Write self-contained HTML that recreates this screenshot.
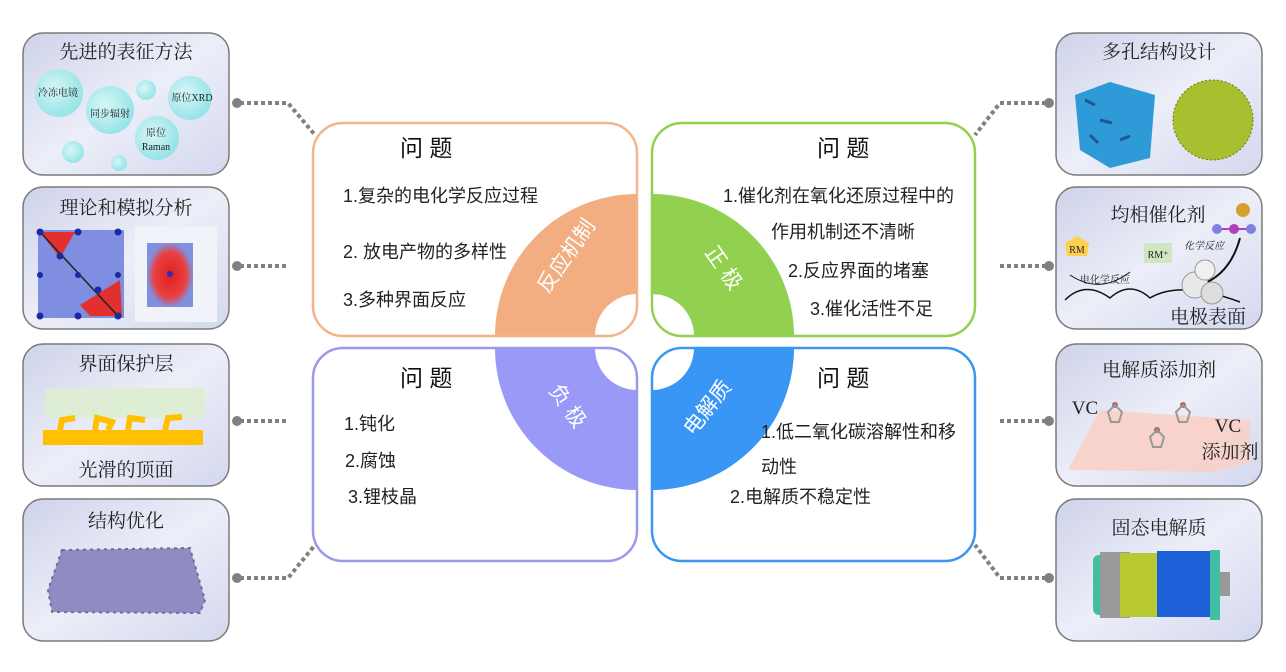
<!DOCTYPE html>
<html><head><meta charset="utf-8"><style>
html,body{margin:0;padding:0;background:#fff;}
svg{display:block;}
.pt{font-family:"Liberation Serif","Noto Serif CJK SC",serif;font-size:19px;fill:#222;}
.ct{font-family:"Liberation Sans","Noto Sans CJK SC",sans-serif;font-size:18px;fill:#222;}
.h{font-family:"Liberation Sans","Noto Sans CJK SC",sans-serif;font-size:23px;fill:#111;}
.ql{font-family:"Liberation Sans","Noto Sans CJK SC",sans-serif;font-size:21px;fill:#fff;}
.s{font-family:"Liberation Serif","Noto Serif CJK SC",serif;font-size:10px;fill:#222;}
</style></head><body>
<svg width="1286" height="672" viewBox="0 0 1286 672" xmlns="http://www.w3.org/2000/svg">
<defs>
<linearGradient id="pg" x1="0" y1="0" x2="1" y2="1">
<stop offset="0" stop-color="#cfd3ea"/><stop offset="0.5" stop-color="#eceef8"/><stop offset="1" stop-color="#d4d8ee"/>
</linearGradient>
<radialGradient id="bub" cx="0.4" cy="0.4" r="0.6">
<stop offset="0" stop-color="#d8f8f8"/><stop offset="1" stop-color="#8fe4e6"/>
</radialGradient>
<radialGradient id="heat" cx="0.5" cy="0.5" r="0.5">
<stop offset="0" stop-color="#e02020"/><stop offset="0.7" stop-color="#e84040"/><stop offset="1" stop-color="#8090e0"/>
</radialGradient>
<clipPath id="cTL"><rect x="313" y="123" width="324" height="213" rx="30"/></clipPath>
<clipPath id="cTR"><rect x="652" y="123" width="323" height="213" rx="30"/></clipPath>
<clipPath id="cBL"><rect x="313" y="348" width="324" height="213" rx="30"/></clipPath>
<clipPath id="cBR"><rect x="652" y="348" width="323" height="213" rx="30"/></clipPath>
</defs>

<g stroke="#808080" stroke-width="4" stroke-dasharray="4 3" fill="none">
<path d="M240 103 H288 L315 135"/>
<path d="M240 266 H288"/>
<path d="M240 421 H288"/>
<path d="M240 578 H288 L315 545"/>
<path d="M1046 103 H1000 L975 135"/>
<path d="M1046 266 H1000"/>
<path d="M1046 421 H1000"/>
<path d="M1046 578 H1000 L975 545"/>
</g>
<g fill="#808080">
<circle cx="237" cy="103" r="5"/><circle cx="237" cy="266" r="5"/><circle cx="237" cy="421" r="5"/><circle cx="237" cy="578" r="5"/>
<circle cx="1049" cy="103" r="5"/><circle cx="1049" cy="266" r="5"/><circle cx="1049" cy="421" r="5"/><circle cx="1049" cy="578" r="5"/>
</g>

<g stroke="#7a7a7a" stroke-width="1.5" fill="url(#pg)">
<rect x="23" y="33" width="206" height="142" rx="20"/>
<rect x="23" y="187" width="206" height="142" rx="20"/>
<rect x="23" y="344" width="206" height="142" rx="20"/>
<rect x="23" y="499" width="206" height="142" rx="20"/>
<rect x="1056" y="33" width="206" height="142" rx="20"/>
<rect x="1056" y="187" width="206" height="142" rx="20"/>
<rect x="1056" y="344" width="206" height="142" rx="20"/>
<rect x="1056" y="499" width="206" height="142" rx="20"/>
</g>

<text class="pt" x="126" y="58" text-anchor="middle">先进的表征方法</text>
<g fill="url(#bub)" opacity="0.9">
<circle cx="59" cy="93" r="24"/><circle cx="110" cy="110" r="24"/><circle cx="146" cy="90" r="10"/>
<circle cx="190" cy="98" r="22"/><circle cx="157" cy="138" r="22"/><circle cx="73" cy="152" r="11"/><circle cx="119" cy="163" r="8"/>
</g>
<text class="s" x="58" y="96" text-anchor="middle">冷冻电镜</text>
<text class="s" x="110" y="117" text-anchor="middle">同步辐射</text>
<text class="s" x="192" y="101" text-anchor="middle">原位XRD</text>
<text class="s" x="156" y="136" text-anchor="middle">原位</text>
<text class="s" x="156" y="150" text-anchor="middle">Raman</text>

<text class="pt" x="126" y="214" text-anchor="middle">理论和模拟分析</text>
<rect x="38" y="230" width="86" height="88" fill="#7f8ee0"/>
<path d="M40 232 L75 232 L60 258 Z M80 305 L120 280 L122 316 L90 316 Z" fill="#e03030"/>
<path d="M40 232 L118 316" stroke="#222" stroke-width="1.5"/>
<g fill="#1a2aa0"><circle cx="40" cy="232" r="3.5"/><circle cx="78" cy="232" r="3.5"/><circle cx="118" cy="232" r="3.5"/><circle cx="60" cy="256" r="3.5"/><circle cx="98" cy="290" r="3.5"/><circle cx="40" cy="316" r="3.5"/><circle cx="78" cy="316" r="3.5"/><circle cx="118" cy="316" r="3.5"/><circle cx="78" cy="275" r="3"/><circle cx="40" cy="275" r="3"/><circle cx="118" cy="275" r="3"/></g>
<rect x="135" y="227" width="82" height="95" fill="#f2f3f8"/>
<rect x="147" y="243" width="46" height="64" fill="url(#heat)"/>
<circle cx="170" cy="274" r="3" fill="#2030c0"/>

<text class="pt" x="126" y="370" text-anchor="middle">界面保护层</text>
<rect x="45" y="388" width="160" height="30" rx="4" fill="#ddeed0" opacity="0.9"/>
<rect x="43" y="430" width="160" height="15" fill="#ffc000"/>
<path d="M60 430 L62 420 L75 418 M95 430 L97 418 L112 422 L108 430 M128 430 L130 418 L145 420 M165 430 L168 418 L182 417" stroke="#ffc000" stroke-width="6" fill="none"/>
<text class="pt" x="126" y="476" text-anchor="middle">光滑的顶面</text>

<text class="pt" x="126" y="527" text-anchor="middle">结构优化</text>
<path d="M62 550 L190 548 L205 600 L200 613 L52 612 L48 590 Z" fill="#8e8cc0"/>
<path d="M62 550 L190 548 L205 600 L200 613 L52 612 L48 590 Z" fill="none" stroke="#6e6ca0" stroke-width="2" stroke-dasharray="3 4"/>

<text class="pt" x="1159" y="58" text-anchor="middle">多孔结构设计</text>
<path d="M1075 95 L1110 82 L1155 95 L1150 158 L1110 168 L1080 150 Z" fill="#2f9ad8"/>
<path d="M1085 100 l10 5 M1100 120 l12 3 M1120 140 l10 -4 M1090 135 l8 8" stroke="#1a5a90" stroke-width="3"/>
<circle cx="1213" cy="120" r="40" fill="#a8c030"/>
<circle cx="1213" cy="120" r="40" fill="none" stroke="#6a7a10" stroke-width="1" stroke-dasharray="2 2"/>

<text class="pt" x="1158" y="221" text-anchor="middle">均相催化剂</text>
<circle cx="1243" cy="210" r="7" fill="#d4a030"/>
<line x1="1217" y1="229" x2="1251" y2="229" stroke="#b040c0" stroke-width="2"/>
<circle cx="1217" cy="229" r="5" fill="#8080e0"/><circle cx="1234" cy="229" r="5" fill="#b040c0"/><circle cx="1251" cy="229" r="5" fill="#8080e0"/>
<polygon points="1077,236 1089,243 1087,256 1067,256 1065,243" fill="#ffd050"/>
<text class="s" x="1077" y="253" text-anchor="middle" font-size="12">RM</text>
<rect x="1144" y="243" width="28" height="20" fill="#cfe6c0"/>
<text class="s" x="1158" y="258" text-anchor="middle" font-size="12">RM⁺</text>
<text class="s" x="1204" y="249" text-anchor="middle" font-size="12" font-style="italic">化学反应</text>
<path d="M1070 275 Q1100 295 1130 272" stroke="#111" fill="none"/>
<text class="s" x="1105" y="283" text-anchor="middle" font-size="12">电化学反应</text>
<path d="M1065 300 Q1085 280 1110 298 Q1130 280 1150 298 Q1180 280 1240 302" stroke="#111" stroke-width="1.5" fill="none"/>
<path d="M1200 285 Q1230 275 1240 238" stroke="#111" stroke-width="2" fill="none"/>
<circle cx="1195" cy="285" r="13" fill="#e8e8e8" stroke="#999"/><circle cx="1212" cy="293" r="11" fill="#ddd" stroke="#999"/><circle cx="1205" cy="270" r="10" fill="#f0f0f0" stroke="#999"/>
<text class="pt" x="1208" y="323" text-anchor="middle">电极表面</text>

<text class="pt" x="1159" y="376" text-anchor="middle">电解质添加剂</text>
<path d="M1068 470 L1100 410 L1250 420 L1250 462 L1215 472 Z" fill="#f8d0c8" opacity="0.9"/>
<text class="pt" x="1085" y="414" text-anchor="middle">VC</text>
<text class="pt" x="1228" y="432" text-anchor="middle">VC</text>
<text class="pt" x="1230" y="458" text-anchor="middle">添加剂</text>
<g fill="#c06060"><circle cx="1115" cy="405" r="3"/><circle cx="1157" cy="430" r="3"/><circle cx="1183" cy="405" r="3"/></g>
<g stroke="#999" stroke-width="2" fill="none"><path d="M1108 412 l7 -7 l7 7 l-3 10 h-8 z"/><path d="M1150 437 l7 -7 l7 7 l-3 10 h-8 z"/><path d="M1176 412 l7 -7 l7 7 l-3 10 h-8 z"/></g>

<text class="pt" x="1159" y="534" text-anchor="middle">固态电解质</text>
<rect x="1093" y="555" width="30" height="60" rx="6" fill="#40c0a0"/>
<rect x="1100" y="552" width="30" height="66" fill="#9a9a9a"/>
<rect x="1120" y="553" width="42" height="64" fill="#b8c830"/>
<rect x="1157" y="551" width="58" height="66" fill="#1e60d8"/>
<rect x="1210" y="550" width="10" height="70" fill="#40c0a0"/>
<rect x="1220" y="572" width="10" height="24" fill="#999"/>

<g fill="#fff">
<rect x="313" y="123" width="324" height="213" rx="30"/>
<rect x="652" y="123" width="323" height="213" rx="30"/>
<rect x="313" y="348" width="324" height="213" rx="30"/>
<rect x="652" y="348" width="323" height="213" rx="30"/>
</g>
<path clip-path="url(#cTL)" d="M637 194 A142 142 0 0 0 495 336 L595 336 A42 42 0 0 1 637 294 Z" fill="#f2ad80"/>
<path clip-path="url(#cTR)" d="M652 194 A142 142 0 0 1 794 336 L694 336 A42 42 0 0 0 652 294 Z" fill="#92d050"/>
<path clip-path="url(#cBL)" d="M637 490 A142 142 0 0 1 495 348 L595 348 A42 42 0 0 0 637 390 Z" fill="#9a99f8"/>
<path clip-path="url(#cBR)" d="M652 490 A142 142 0 0 0 794 348 L694 348 A42 42 0 0 1 652 390 Z" fill="#3a96f4"/>
<g fill="none" stroke-width="2.5">
<rect x="313" y="123" width="324" height="213" rx="30" stroke="#f4b48a"/>
<rect x="652" y="123" width="323" height="213" rx="30" stroke="#92d050"/>
<rect x="313" y="348" width="324" height="213" rx="30" stroke="#9a99f0"/>
<rect x="652" y="348" width="323" height="213" rx="30" stroke="#3a96f0"/>
</g>

<text class="ql" transform="translate(572,260) rotate(-55)" text-anchor="middle">反应机制</text>
<text class="ql" transform="translate(718,272) rotate(55)" text-anchor="middle">正 极</text>
<text class="ql" transform="translate(562,410) rotate(55)" text-anchor="middle">负 极</text>
<text class="ql" transform="translate(713,412) rotate(-52)" text-anchor="middle">电解质</text>

<text class="h" x="400" y="156">问 题</text>
<text class="ct" x="343" y="202">1.复杂的电化学反应过程</text>
<text class="ct" x="343" y="258">2. 放电产物的多样性</text>
<text class="ct" x="343" y="306">3.多种界面反应</text>

<text class="h" x="817" y="156">问 题</text>
<text class="ct" x="723" y="202">1.催化剂在氧化还原过程中的</text>
<text class="ct" x="771" y="238">作用机制还不清晰</text>
<text class="ct" x="788" y="277">2.反应界面的堵塞</text>
<text class="ct" x="810" y="315">3.催化活性不足</text>

<text class="h" x="400" y="386">问 题</text>
<text class="ct" x="344" y="430">1.钝化</text>
<text class="ct" x="345" y="467">2.腐蚀</text>
<text class="ct" x="348" y="503">3.锂枝晶</text>

<text class="h" x="817" y="386">问 题</text>
<text class="ct" x="761" y="438">1.低二氧化碳溶解性和移</text>
<text class="ct" x="761" y="473">动性</text>
<text class="ct" x="730" y="503">2.电解质不稳定性</text>
</svg>
</body></html>
